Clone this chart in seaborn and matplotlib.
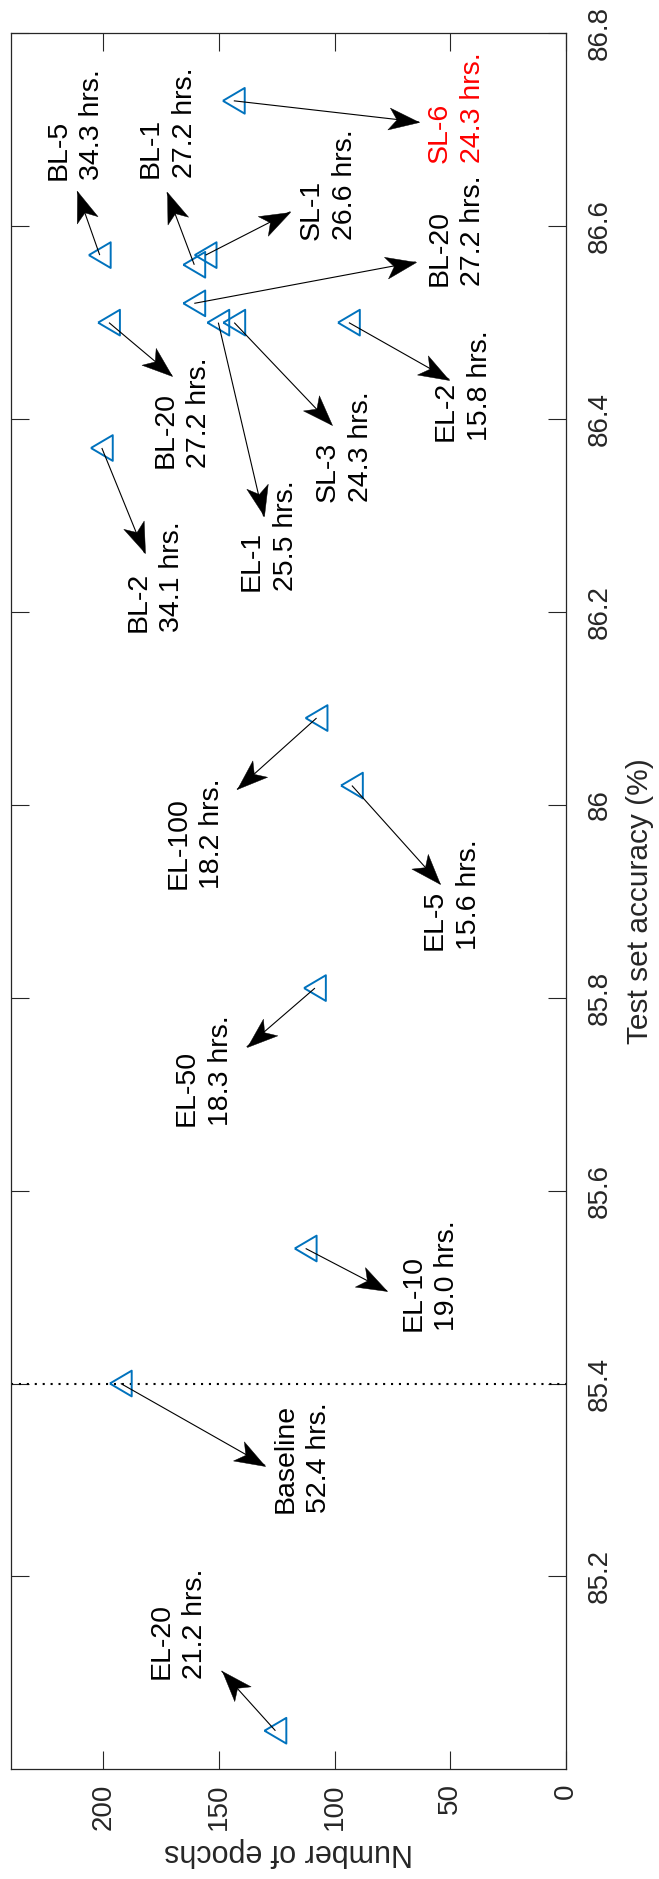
import numpy as np
import pandas as pd
import matplotlib
matplotlib.use("Agg")
import matplotlib.pyplot as plt
from matplotlib.markers import MarkerStyle
from matplotlib.transforms import Affine2D
import seaborn as sns

# ---- data ----
names = ["SL-6", "BL-5", "BL-1", "SL-1", "BL-20", "BL-20", "EL-1", "SL-3", "EL-2",
         "BL-2", "EL-100", "EL-5", "EL-50", "EL-10", "Baseline", "EL-20"]
hours = ["24.3", "34.3", "27.2", "26.6", "27.2", "27.2", "25.5", "24.3", "15.8",
         "34.1", "18.2", "15.6", "18.3", "19.0", "52.4", "21.2"]
epochs = [143.6, 201.6, 160.7, 155.8, 160.7, 197.6, 150.3, 143.4, 93.8,
          200.7, 107.8, 92.5, 108.5, 112.5, 192.5, 125.6]
accuracy = [86.73, 86.57, 86.56, 86.57, 86.52, 86.50, 86.50, 86.50, 86.50,
            86.37, 86.09, 86.02, 85.81, 85.54, 85.40, 85.04]
highlight = "SL-6"

epoch_ticks = [0, 50, 100, 150, 200]
acc_ticks = [85.2, 85.4, 85.6, 85.8, 86.0, 86.2, 86.4, 86.6, 86.8]
acc_ticklabels = ["85.2", "85.4", "85.6", "85.8", "86", "86.2", "86.4", "86.6", "86.8"]

# ---- annotation layout (label anchor / arrow tip, in data units) ----
label_pos = [(47.3, 86.666), (212.2, 86.648), (172.2, 86.650), (102.7, 86.586),
             (47.3, 86.538), (165.8, 86.349), (128.5, 86.222), (95.8, 86.314),
             (44.5, 86.377), (177.6, 86.179), (160.3, 85.913), (49.4, 85.849),
             (156.7, 85.667), (58.5, 85.454), (114.0, 85.266), (167.6, 85.094)]
arrow_tip = [(63.4, 86.708), (211.3, 86.636), (172.5, 86.635), (119.1, 86.615),
             (64.9, 86.563), (170.3, 86.445), (130.7, 86.299), (101.3, 86.394),
             (50.3, 86.441), (182.2, 86.261), (142.2, 86.016), (54.3, 85.918),
             (138.0, 85.749), (77.3, 85.496), (130.0, 85.315), (148.9, 85.102)]

df = pd.DataFrame({"name": names, "hours": hours, "epochs": epochs, "accuracy": accuracy})

sns.set_style("white")
plt.rcParams["font.family"] = ["Liberation Sans", "DejaVu Sans"]

fig = plt.figure(figsize=(6.59, 18.79), dpi=100)
ax = fig.add_axes([11 / 659, 1 - 1769.3 / 1879, (565.7 - 11) / 659, (1769.3 - 33.3) / 1879])
ax.set_xlim(240, 0)
ax.set_ylim(85.0, 86.8)

blue = "#0072BD"
tri = [(-0.85, 0.0), (0.85, -1.0), (0.85, 1.0), (-0.85, 0.0)]
head = [(0.0, 0.0), (-1.0, 0.36), (-0.74, 0.0), (-1.0, -0.36), (0.0, 0.0)]

# baseline dotted line
base_acc = df.loc[df["name"] == "Baseline", "accuracy"].iloc[0]
ax.axhline(base_acc, color="black", lw=1.5, dashes=(1.0, 2.8), zorder=1)

sns.scatterplot(data=df, x="epochs", y="accuracy", ax=ax, marker=tri, s=18.5 ** 2,
                color=blue, edgecolor=blue, linewidth=1.4, zorder=3, legend=False)
ax.collections[-1].set_facecolor("none")
ax.collections[-1].set_edgecolor(blue)

for (n, h, e, a), (lx, ly), (tx, ty) in zip(zip(names, hours, epochs, accuracy), label_pos, arrow_tip):
    col = "#FF0000" if n == highlight else "black"
    ax.text(lx, ly, f"{n}\n{h} hrs.", rotation=90, rotation_mode="anchor",
            ha="left", va="center", multialignment="left", fontsize=20.5,
            color=col, linespacing=1.4, zorder=4)
    ax.plot([e, tx], [a, ty], color="black", lw=0.8, zorder=4, solid_capstyle="butt")
    p0 = ax.transData.transform((e, a))
    p1 = ax.transData.transform((tx, ty))
    ang = np.degrees(np.arctan2(p1[1] - p0[1], p1[0] - p0[0]))
    ms = MarkerStyle(head, transform=Affine2D().rotate_deg(ang))
    ax.plot([tx], [ty], linestyle="none", marker=ms, markersize=44,
            color="black", markeredgewidth=0.3, zorder=5)

ax.set_xticks(epoch_ticks)
ax.set_xticklabels([str(t) for t in epoch_ticks], rotation=90)
ax.set_yticks(acc_ticks)
ax.set_yticklabels(acc_ticklabels, rotation=90, va="center")

ax.yaxis.set_label_position("right")
ax.yaxis.tick_right()
ax.tick_params(axis="both", direction="in", length=13, width=0.8, colors="#262626",
               labelcolor="#262626", labelsize=20)
ax.tick_params(axis="x", top=True, bottom=True, pad=10)
ax.tick_params(axis="y", left=True, right=True, labelleft=False, labelright=True, pad=15)

ax.set_xlabel("Number of epochs", rotation=180, fontsize=22, color="#262626", labelpad=5)
ax.set_ylabel("Test set accuracy (%)", rotation=90, fontsize=21.5, color="#262626", labelpad=10)

for sp in ax.spines.values():
    sp.set_visible(True)
    sp.set_color("#262626")
    sp.set_linewidth(0.9)

fig.savefig("out.png", dpi=100)
